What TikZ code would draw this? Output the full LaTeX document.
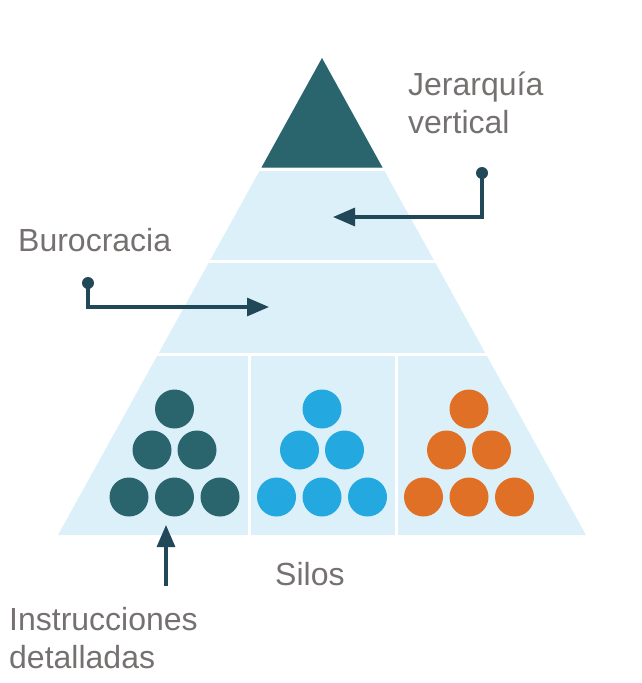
\documentclass[tikz,border=0pt]{standalone}
\usepackage{fontspec}
\setmainfont{Liberation Sans}
\usetikzlibrary{arrows.meta}
\definecolor{teal}{RGB}{42,100,108}
\definecolor{skyblue}{RGB}{36,168,224}
\definecolor{orng}{RGB}{224,112,38}
\definecolor{pale}{RGB}{220,240,249}
\definecolor{conn}{RGB}{32,72,88}
\definecolor{txt}{RGB}{118,113,113}
\tikzset{
  lbl/.style={inner sep=0pt, text=txt, font=\fontsize{32}{38}\selectfont, align=left},
  conline/.style={draw=conn, line width=3.2pt, -{Triangle[length=22pt,width=18pt]}},
  dotend/.style={circle, fill=conn, inner sep=0pt, minimum size=12pt},
  sep/.style={white, line width=3pt},
  ball/.style={circle, inner sep=0pt, minimum size=39pt}
}
\begin{document}
\begin{tikzpicture}[x=1pt,y=-1pt]
\useasboundingbox (0,0) rectangle (642,683);
% pyramid
\fill[pale] (322,58) -- (586,535) -- (58,535) -- cycle;
\fill[teal] (322,58) -- (382.5,167.5) -- (261.5,167.5) -- cycle;
\draw[sep] (200,169) -- (450,169);
\draw[sep] (100,261.5) -- (540,261.5);
\draw[sep] (50,354.5) -- (600,354.5);
\draw[sep] (249.5,354.5) -- (249.5,540);
\draw[sep] (396.5,354.5) -- (396.5,540);
% balls
\foreach \cx/\col [count=\g] in {174.5/teal,322/skyblue,469/orng}{
  \node[ball, fill=\col] (b\g a) at (\cx,409) {};
  \node[ball, fill=\col] (b\g b) at (\cx-22.5,450) {};
  \node[ball, fill=\col] (b\g c) at (\cx+22.5,450) {};
  \node[ball, fill=\col] (b\g d) at (\cx-45.5,497) {};
  \node[ball, fill=\col] (b\g e) at (\cx,497) {};
  \node[ball, fill=\col] (b\g f) at (\cx+45.5,497) {};
}
% labels
\node[lbl, anchor=base west] (jer) at (408,133) {Jerarquía\\vertical};
\node[lbl, anchor=base west] (bur) at (18,251) {Burocracia};
\node[lbl, anchor=base west] (silos) at (275,585) {Silos};
\node[lbl, anchor=base west] (ins) at (9,668) {Instrucciones\\detalladas};
% connectors
\node[dotend] (jdot) at (482,173) {};
\coordinate (jtip) at (333,217);
\draw[conline] (jdot.center) |- (jtip);
\node[dotend] (bdot) at (88,283) {};
\coordinate (btip) at (269,307);
\draw[conline] (bdot.center) |- (btip);
\coordinate (istart) at (166,586);
\coordinate (itip) at (166,525);
\draw[conline] (istart) -- (itip);
\end{tikzpicture}
\end{document}
